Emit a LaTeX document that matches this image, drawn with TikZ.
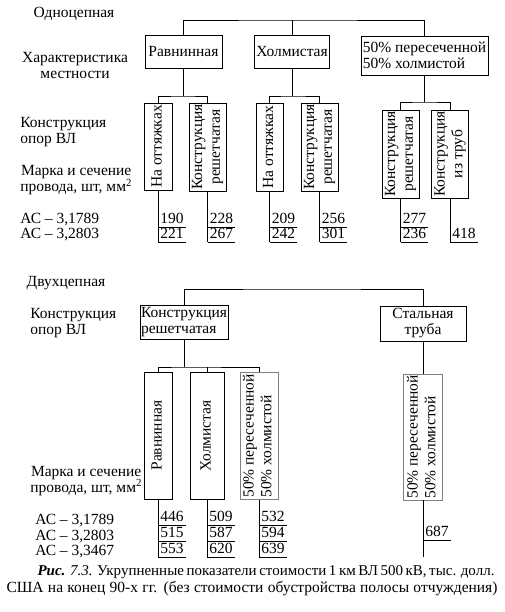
\documentclass[tikz,border=0pt]{standalone}
\usepackage{fontspec}
\setmainfont{Liberation Serif}
\usepackage{graphicx}

% rotated text for the narrow boxes
\newcommand{\vlabel}[2][c]{\rotatebox{90}{\def\arraystretch{1.1}\begin{tabular}{@{}#1@{}}#2\end{tabular}}}

\begin{document}
\begin{tikzpicture}[x=1pt, y=-1pt, line width=0.7pt,
	font=\fontsize{15.5}{16}\selectfont,
	box/.style = {draw, inner sep=1pt, align=center},
	gbox/.style = {box, draw=gray},
	lbl/.style = {anchor=base west, inner sep=0pt, align=left},
	val/.style = {anchor=south west, inner xsep=2pt, inner ysep=0pt, yshift=3pt,
		append after command={([yshift=-3pt]\tikzlastnode.south west) edge ([yshift=-3pt]\tikzlastnode.south east)}}]
	\useasboundingbox (0,0) rectangle (504,612);

	% single circuit
	\node[anchor=base, inner sep=0pt] (single) at (74,18) {Одноцепная};
	\node[anchor=base, inner sep=0pt, align=center] (terrain) at (75,79) {Характеристика\\местности};
	\node[lbl] (tower1) at (20,144) {Конструкция\\опор ВЛ};
	\node[lbl, align=center] (wire1) at (20,192) {Марка и сечение\\провода, шт, мм\textsuperscript{2}};
	\node[lbl] (ac11) at (20,223) {АС – 3,1789};
	\node[lbl] (ac12) at (20,238) {АС – 3,2803};

	\node[box, minimum width=77, minimum height=33] (rav) at (183.5,51.5) {Равнинная};
	\node[box, minimum width=75, minimum height=33] (hol) at (292,52) {Холмистая};
	\node[box, minimum width=127, minimum height=39, align=left] (mix) at (424.5,55.5) {50\% пересеченной\\50\% холмистой};

	\node[box, minimum width=28, minimum height=87] (r1a) at (158,146.5) {\vlabel{На оттяжках}};
	\node[box, minimum width=35, minimum height=88] (r1b) at (207.5,147) {\vlabel{Конструкция\\решетчатая}};
	\node[box, minimum width=27, minimum height=88] (h1a) at (269.5,147) {\vlabel{На оттяжках}};
	\node[box, minimum width=35, minimum height=88] (h1b) at (319.5,147) {\vlabel{Конструкция\\решетчатая}};
	\node[box, minimum width=35, minimum height=86] (m1a) at (400.5,154) {\vlabel{Конструкция\\решетчатая}};
	\node[box, minimum width=32, minimum height=86] (m1b) at (450,154) {\vlabel{Конструкция\\из труб}};

	\coordinate (t1) at (292,20);
	\draw (rav.north) |- (t1) -| (mix.north);
	\draw (hol.north) -- (t1);
	\coordinate (j1) at (183.5,96);
	\coordinate (j2) at (292,96);
	\coordinate (j3) at (424.5,102);
	\draw (rav.south) -- (j1);
	\draw (r1a.north) |- (j1) -| (r1b.north);
	\draw (hol.south) -- (j2);
	\draw (h1a.north) |- (j2) -| (h1b.north);
	\draw (mix.south) -- (j3);
	\draw (m1a.north) |- (j3) -| (m1b.north);

	\node[val] (v1a1) at (158,227) {190};
	\node[val] (v1a2) at (158,242) {221};
	\node[val] (v1b1) at (207.5,227) {228};
	\node[val] (v1b2) at (207.5,242) {267};
	\node[val] (v2a1) at (269.5,227) {209};
	\node[val] (v2a2) at (269.5,242) {242};
	\node[val] (v2b1) at (319.5,227) {256};
	\node[val] (v2b2) at (319.5,242) {301};
	\node[val] (v3a1) at (400.5,227) {277};
	\node[val] (v3a2) at (400.5,242) {236};
	\node[val] (v3b2) at (450,242) {418};
	\coordinate (e1a) at (158,242);
	\coordinate (e1b) at (207.5,242);
	\coordinate (e2a) at (269.5,242);
	\coordinate (e2b) at (319.5,242);
	\coordinate (e3a) at (400.5,242);
	\coordinate (e3b) at (450,242);

	\draw (r1a.south) -- (e1a);
	\draw (r1b.south) -- (e1b);
	\draw (h1a.south) -- (e2a);
	\draw (h1b.south) -- (e2b);
	\draw (m1a.south) -- (e3a);
	\draw (m1b.south) -- (e3b);

	% double circuit
	\node[anchor=base, inner sep=0pt] (double) at (66,286) {Двухцепная};
	\node[lbl] (tower2) at (30,334) {Конструкция\\опор ВЛ};
	\node[lbl, align=center] (wire2) at (30,492) {Марка и сечение\\провода, шт, мм\textsuperscript{2}};
	\node[lbl] (ac21) at (35,524) {АС – 3,1789};
	\node[lbl] (ac22) at (35,540) {АС – 3,2803};
	\node[lbl] (ac23) at (35,555) {АС – 3,3467};

	\node[box, minimum width=86, minimum height=34, align=left] (lat) at (184,322) {Конструкция\\решетчатая};
	\node[box, minimum width=86, minimum height=35] (steel) at (423,323.5) {Стальная\\труба};

	\node[box, minimum width=28, minimum height=127] (b1) at (158,435.5) {\vlabel{Равнинная}};
	\node[box, minimum width=34, minimum height=127] (b2) at (207,436) {\vlabel{Холмистая}};
	\node[gbox, minimum width=38, minimum height=127] (b3) at (259,436) {\vlabel[l]{50\% пересеченной\\50\% холмистой}};
	\node[gbox, minimum width=39, minimum height=126] (b4) at (423,437) {\vlabel[l]{50\% пересеченной\\50\% холмистой}};

	\coordinate (t2) at (300,289);
	\draw (lat.north) |- (t2) -| (steel.north);
	\coordinate (j4) at (184,367);
	\draw (lat.south) -- (j4);
	\draw (b1.north) |- (j4) -| (b3.north);
	\draw (b2.north) -- (b2.north |- j4);
	\draw (steel.south) -- (b4.north);

	\node[val] (w1a) at (158,525) {446};
	\node[val] (w1b) at (158,541) {515};
	\node[val] (w1c) at (158,557) {553};
	\node[val] (w2a) at (207,525) {509};
	\node[val] (w2b) at (207,541) {587};
	\node[val] (w2c) at (207,557) {620};
	\node[val] (w3a) at (259,525) {532};
	\node[val] (w3b) at (259,541) {594};
	\node[val] (w3c) at (259,557) {639};
	\node[val] (w4b) at (423,540) {687};
	\coordinate (e5) at (158,557);
	\coordinate (e6) at (207,557);
	\coordinate (e7) at (259,557);
	\coordinate (e8) at (423,557);

	\draw (b1.south) -- (e5);
	\draw (b2.south) -- (e6);
	\draw (b3.south) -- (e7);
	\draw (b4.south) -- (e8);

	% caption
	\node[anchor=base, inner sep=0pt, align=center, font=\fontsize{15}{17}\selectfont] (cap) at (252,592)
		{\hspace*{28pt}\makebox[457pt][s]{\textbf{\textit{Рис.}} \textit{7.3.} Укрупненные показатели стоимости 1 км ВЛ 500 кВ, тыс. долл.}\\
		\makebox[491pt][s]{\fontsize{15.5}{17}\selectfont США на конец 90-х гг. (без стоимости обустройства полосы отчуждения)}};
\end{tikzpicture}
\end{document}
